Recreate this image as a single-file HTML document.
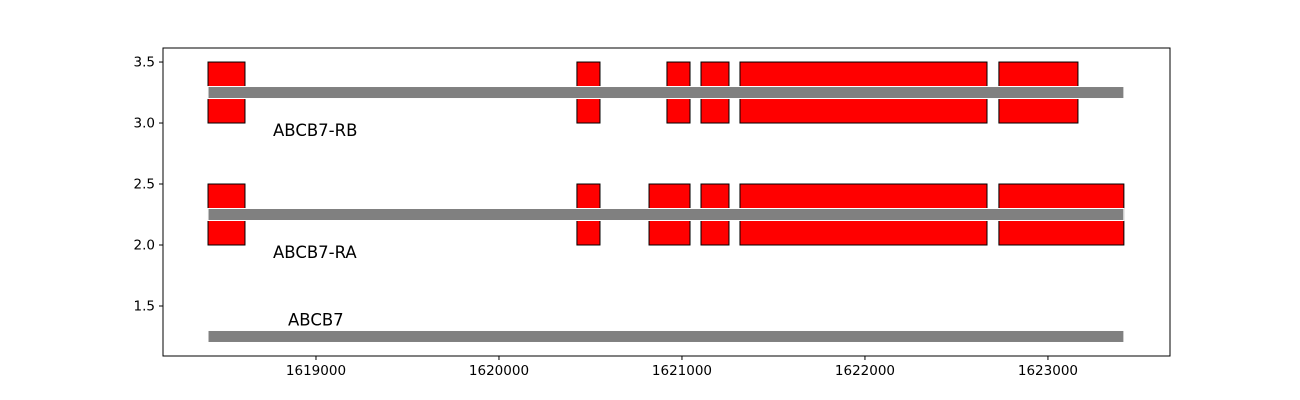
<!DOCTYPE html>
<html><head><meta charset="utf-8"><style>
body{margin:0;background:#fff;}
svg{display:block;font-family:"DejaVu Sans","Liberation Sans",sans-serif;}
</style></head><body>
<svg id="chart" width="1300" height="400"></svg>
<script>
const transcripts = ["ABCB7-RB","ABCB7-RA"];
const transcriptY = [3.0, 2.0];
const exonsRB = [[1618410,1618612],[1620426,1620552],[1620918,1621044],[1621104,1621257],[1621317,1622667],[1622732,1623164]];
const exonsRA = [[1618410,1618612],[1620426,1620552],[1620820,1621044],[1621104,1621257],[1621317,1622667],[1622732,1623415]];
const transcriptSpans = [[1618410,1623415],[1618410,1623415]];
const geneName = "ABCB7";
const geneSpan = [1618410,1623415];
const geneY = 1.25;
const xTicks = [1619000,1620000,1621000,1622000,1623000];
const yTicks = [1.5,2.0,2.5,3.0,3.5];

const L=163,R=1170,T=48,B=356;
const xMin=1618164,xMax=1623667,yMin=1.09,yMax=3.615;
const X=v=>L+(v-xMin)/(xMax-xMin)*(R-L);
const Y=v=>B-(v-yMin)/(yMax-yMin)*(B-T);
const svg=document.getElementById('chart');
const NS="http://www.w3.org/2000/svg";
function mk(tag,attrs,parent){const e=document.createElementNS(NS,tag);for(const k in attrs)e.setAttribute(k,attrs[k]);(parent||svg).appendChild(e);return e;}

const allExons=[exonsRB,exonsRA];
transcripts.forEach((name,i)=>{
  const g=mk('g',{});
  
  
  const y0=transcriptY[i];
  allExons[i].forEach((ex,j)=>{
    const r=mk('rect',{x:X(ex[0]),y:Y(y0+0.5),width:X(ex[1])-X(ex[0]),height:Y(y0)-Y(y0+0.5),fill:'#ff0000',stroke:'#000','stroke-width':1},g);
    
    
  });
  const sp=transcriptSpans[i];
  const ln=mk('rect',{x:X(sp[0]),y:Y(y0+0.25)-6,width:X(sp[1])-X(sp[0]),height:12,fill:'#808080',stroke:'#fff','stroke-width':1},g);
  
  
  const t=mk('text',{x:273,y:Y(y0)+13,'font-size':16.5,fill:'#000'},g);
  t.textContent=name;
  
  
});
const gl=mk('rect',{x:X(geneSpan[0]),y:Y(geneY)-6,width:X(geneSpan[1])-X(geneSpan[0]),height:12,fill:'#808080',stroke:'#fff','stroke-width':1});


const gt=mk('text',{x:288,y:Y(geneY)-11,'font-size':16.5,fill:'#000'});
gt.textContent=geneName;



const frame=mk('rect',{x:L,y:T,width:R-L,height:B-T,fill:'none',stroke:'#000','stroke-width':1});


xTicks.forEach(v=>{
  const x=X(v);
  const tk=mk('line',{x1:x,x2:x,y1:B,y2:B+4,stroke:'#000'});
  
  
  const t=mk('text',{x:x,y:B+19,'font-size':13.5,'text-anchor':'middle'});
  t.textContent=v;
  
  
});
yTicks.forEach(v=>{
  const y=Y(v);
  const tk=mk('line',{x1:L-4,x2:L,y1:y,y2:y,stroke:'#000'});
  
  
  const t=mk('text',{x:L-8,y:y+4.5,'font-size':13.5,'text-anchor':'end'});
  t.textContent=v.toFixed(1);
  
  
});
</script>
</body></html>
